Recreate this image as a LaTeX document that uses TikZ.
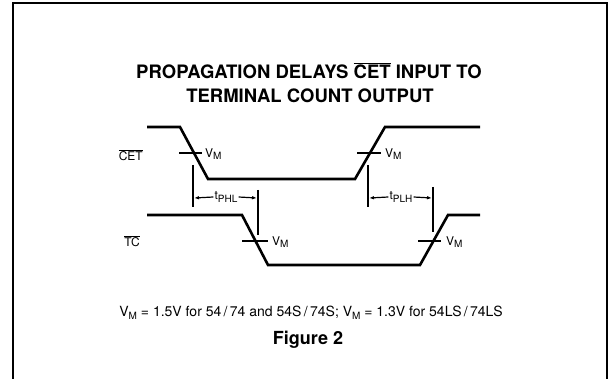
\documentclass[tikz,border=0pt]{standalone}
\usepackage{fontspec}
\setmainfont{TeX Gyre Heros}
\usetikzlibrary{arrows.meta}
\newcommand\ovl[1]{$\overline{\hbox{#1}}$}
\newcommand\subm[1]{\raisebox{-0.4ex}{\fontsize{10}{11}\selectfont #1}}
\begin{document}
\begin{tikzpicture}[x=1pt,y=-1pt,
  wave/.style={line width=2.6pt,line join=miter},
  tick/.style={line width=1.4pt},
  vline/.style={line width=1.5pt},
  lbl/.style={font=\fontsize{12}{14}\selectfont,inner sep=0pt},
  ttl/.style={font=\fontsize{18.5}{22}\selectfont\bfseries,inner sep=0pt},
  dim/.style={line width=1.2pt,-{Latex[length=5pt,width=3.5pt]}}]
\useasboundingbox (0,0) rectangle (610,379);
\draw[line width=1.6pt] (13,379) -- (13,3) -- (607,3) -- (607,379);
% titles
\node[ttl] (t1) at (309,71) {PROPAGATION DELAYS \ovl{CET} INPUT TO};
\node[ttl] (t2) at (310,96) {TERMINAL COUNT OUTPUT};
% CET waveform
\coordinate (c0) at (147,127); \coordinate (c1) at (180,127);
\coordinate (c2) at (208,179); \coordinate (c3) at (355,179);
\coordinate (c4) at (385,127); \coordinate (c5) at (480,127);
\draw[wave] (c0) -- (c1) -- (c2) -- (c3) -- (c4) -- (c5);
% TC waveform
\coordinate (d0) at (147,215); \coordinate (d1) at (242,215);
\coordinate (d2) at (268,265); \coordinate (d3) at (420,265);
\coordinate (d4) at (448,215); \coordinate (d5) at (480,215);
\draw[wave] (d0) -- (d1) -- (d2) -- (d3) -- (d4) -- (d5);
% signal labels
\node[lbl,anchor=east] (cet) at (143,155) {\ovl{CET}};
\node[lbl,anchor=east] (tc) at (140,241) {\ovl{TC}};
% VM ticks
\coordinate (m1a) at (179,153); \coordinate (m1b) at (202,153);
\draw[tick] (m1a) -- (m1b);
\node[lbl,anchor=west] (vm1) at (205,154) {V\subm{M}};
\coordinate (m2a) at (357,153); \coordinate (m2b) at (381,153);
\draw[tick] (m2a) -- (m2b);
\node[lbl,anchor=west] (vm2) at (385,154) {V\subm{M}};
\coordinate (m3a) at (242,241); \coordinate (m3b) at (268,241);
\draw[tick] (m3a) -- (m3b);
\node[lbl,anchor=west] (vm3) at (272,242) {V\subm{M}};
\coordinate (m4a) at (418,241); \coordinate (m4b) at (441,241);
\draw[tick] (m4a) -- (m4b);
\node[lbl,anchor=west] (vm4) at (446,242) {V\subm{M}};
% tPHL
\coordinate (p1a) at (193,165); \coordinate (p1b) at (193,207);
\coordinate (p2a) at (258,190); \coordinate (p2b) at (258,235);
\draw[vline] (p1a) -- (p1b);
\draw[vline] (p2a) -- (p2b);
\node[lbl] (phl) at (226,197) {t\subm{PHL}};
\coordinate (pa) at (194,198); \coordinate (pb) at (257,198);
\draw[dim] (phl.west) ++(-1,0) -- (pa);
\draw[dim] (phl.east) ++(1,0) -- (pb);
% tPLH
\coordinate (q1a) at (368,165); \coordinate (q1b) at (368,207);
\coordinate (q2a) at (433,187); \coordinate (q2b) at (433,232);
\draw[vline] (q1a) -- (q1b);
\draw[vline] (q2a) -- (q2b);
\node[lbl] (plh) at (401,197) {t\subm{PLH}};
\coordinate (qa) at (369,198); \coordinate (qb) at (432,198);
\draw[dim] (plh.west) ++(-1,0) -- (qa);
\draw[dim] (plh.east) ++(1,0) -- (qb);
% footnote
\node[lbl,font=\fontsize{14}{16}\selectfont] (fn) at (311,313)
  {V\subm{M} = 1.5V for 54\,/\,74 and 54S\,/\,74S; V\subm{M} = 1.3V for 54LS\,/\,74LS};
\node[ttl,font=\fontsize{18}{20}\selectfont\bfseries] (fig) at (308,340) {Figure 2};
\end{tikzpicture}
\end{document}
